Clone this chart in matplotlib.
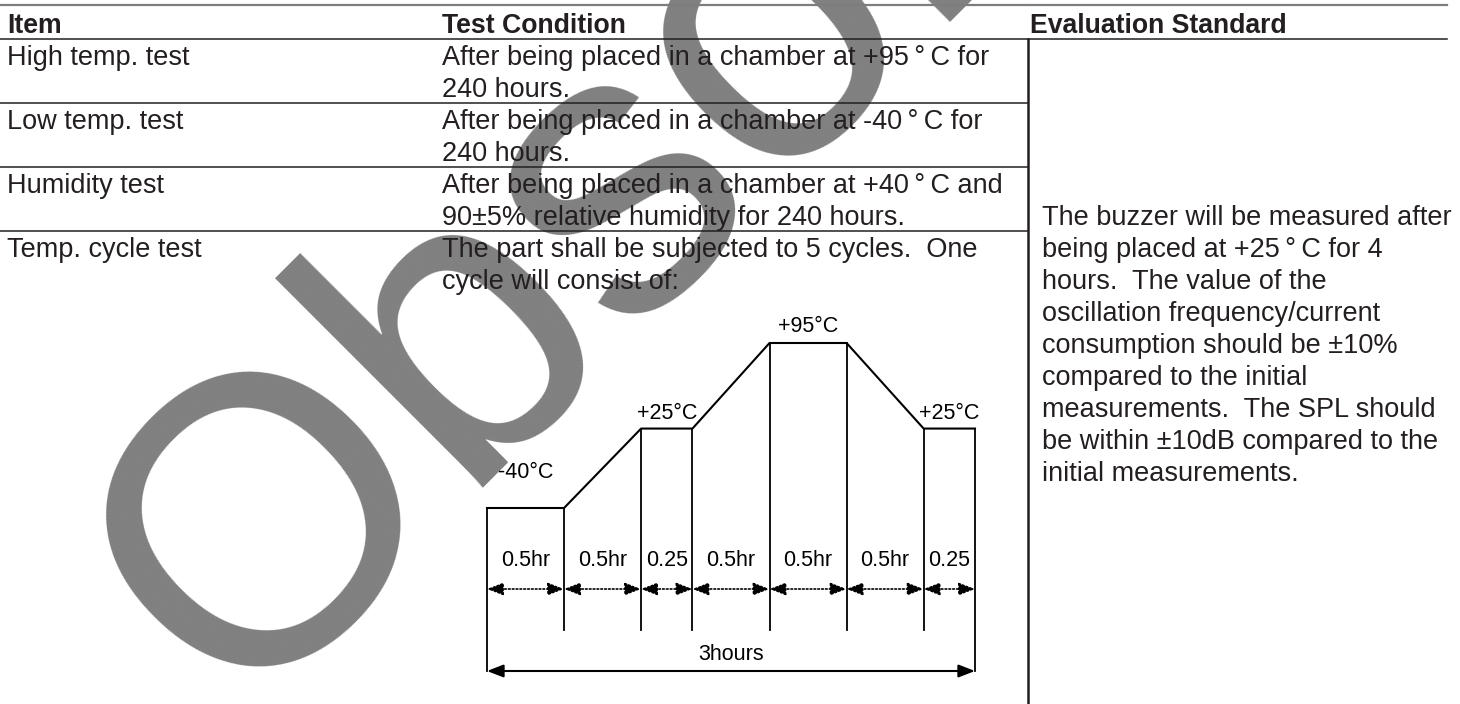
import numpy as np
import matplotlib.pyplot as plt
import matplotlib.transforms as mtransforms

# ---- table content ----
headers = ["Item", "Test Condition", "Evaluation Standard"]
items = ["High temp. test", "Low temp. test", "Humidity test", "Temp. cycle test"]
conditions = [
    ["After being placed in a chamber at +95\u2009°\u2009C for", "240 hours."],
    ["After being placed in a chamber at -40\u2009°\u2009C for", "240 hours."],
    ["After being placed in a chamber at +40\u2009°\u2009C and", "90±5% relative humidity for 240 hours."],
    ["The part shall be subjected to 5 cycles.  One", "cycle will consist of:"],
]
evaluation = [
    "The buzzer will be measured after",
    "being placed at +25\u2009°\u2009C for 4",
    "hours.  The value of the",
    "oscillation frequency/current",
    "consumption should be ±10%",
    "compared to the initial",
    "measurements.  The SPL should",
    "be within ±10dB compared to the",
    "initial measurements.",
]

# ---- temperature cycle ----
seg_hours = [0.5, 0.5, 0.25, 0.5, 0.5, 0.5, 0.25]
seg_labels = ["0.5hr", "0.5hr", "0.25", "0.5hr", "0.5hr", "0.5hr", "0.25"]
profile_temps = [-40, -40, 25, 25, 95, 95, 25, 25]
temp_labels = ["-40°C", "+25°C", "+95°C", "+25°C"]
label_segments = [0, 2, 4, 6]
total_label = "3hours"
watermark = "Obsolete"

# ---- layout (pixels) ----
W, H = 1460, 704
ROW_TOP, ROW_H, LINE_H, BASE_OFF = 39.3, 64, 32, 25.4
COL_X = [7, 441.5, 1030.5]
EVAL_X, EVAL_BASE = 1041.5, 224.7
DIVIDER_X, RIGHT = 1028, 1447
INK = "#231f20"
BODY = 19.5
DIA = 15.5

plt.rcParams["font.family"] = ["Liberation Sans", "DejaVu Sans"]

fig = plt.figure(figsize=(W / 100, H / 100), dpi=100)
ax = fig.add_axes([0, 0, 1, 1])
ax.set_xlim(0, W)
ax.set_ylim(H, 0)
ax.axis("off")

# watermark
ax.text(236, 717, watermark, fontsize=294, color="#808080", rotation=45,
        rotation_mode="anchor", ha="left", va="baseline", zorder=0.5, clip_on=False)

# rules
ax.plot([0, DIVIDER_X - 1], [4.7, 4.7], color="#7d7d7d", lw=1.6, zorder=2)
ax.plot([DIVIDER_X + 1, RIGHT], [4.7, 4.7], color="#7d7d7d", lw=1.6, zorder=2)
ax.plot([0, RIGHT], [ROW_TOP, ROW_TOP], color=INK, lw=1.1, zorder=2)
for k in range(1, len(items)):
    y = ROW_TOP + k * ROW_H
    ax.plot([0, DIVIDER_X], [y, y], color=INK, lw=1.1, zorder=2)
ax.plot([DIVIDER_X, DIVIDER_X], [ROW_TOP, H], color=INK, lw=1.8, zorder=2)

for x, h in zip(COL_X, headers):
    ax.text(x, 33.3, h, fontsize=19.2, fontweight="bold", color=INK, va="baseline", zorder=3)

for k, (item, cond) in enumerate(zip(items, conditions)):
    y0 = ROW_TOP + k * ROW_H + BASE_OFF
    ax.text(COL_X[0], y0, item, fontsize=BODY, color=INK, va="baseline", zorder=3)
    for j, line in enumerate(cond):
        ax.text(COL_X[1], y0 + j * LINE_H, line, fontsize=BODY, color=INK, va="baseline", zorder=3)

for i, line in enumerate(evaluation):
    ax.text(EVAL_X, EVAL_BASE + i * LINE_H, line, fontsize=BODY, color=INK, va="baseline", zorder=3)

# ---- cycle diagram ----
widths = [0.5 + 2 * h for h in seg_hours]          # schematic, not to scale
bounds = np.concatenate([[0], np.cumsum(widths)])
x_left, x_right, y_low, y_high = 487, 975, 508, 343
ax2 = fig.add_axes([x_left / W, (H - y_low) / H, (x_right - x_left) / W, (y_low - y_high) / H])
ax2.set_xlim(0, bounds[-1])
ax2.set_ylim(min(profile_temps), max(profile_temps))
ax2.axis("off")
ax2.patch.set_visible(False)
trans = mtransforms.blended_transform_factory(ax2.transData, ax.transData)

ax2.plot(bounds, profile_temps, color="black", lw=1.5, clip_on=False)

to_px = ax.transData.inverted()
for i, (bx, t) in enumerate(zip(bounds, profile_temps)):
    top = to_px.transform(ax2.transData.transform((bx, t)))[1]
    bottom = 671 if i in (0, len(bounds) - 1) else 630
    ax2.plot([bx, bx], [top, bottom], color="black", lw=1.3, transform=trans, clip_on=False)

for i, lab in enumerate(seg_labels):
    ax2.annotate("", xy=(bounds[i + 1], 589), xytext=(bounds[i], 589),
                 xycoords=trans, textcoords=trans,
                 arrowprops=dict(arrowstyle="<|-|>,head_length=0.9,head_width=0.35",
                                 linestyle=(0, (1, 1.3)), lw=1.2, color="black",
                                 shrinkA=0, shrinkB=0, mutation_scale=11))
    ax2.text((bounds[i] + bounds[i + 1]) / 2, 560, lab, transform=trans, ha="center",
             va="center", fontsize=DIA, color="black")

ax2.annotate("", xy=(bounds[-1], 671), xytext=(bounds[0], 671), xycoords=trans, textcoords=trans,
             arrowprops=dict(arrowstyle="<|-|>,head_length=0.9,head_width=0.35", lw=1.5,
                             color="black", shrinkA=0, shrinkB=0, mutation_scale=11))
ax2.text(bounds[-1] / 2, 655, total_label, transform=trans, ha="center", va="center",
         fontsize=DIA, color="black")

label_dy = [35, 15, 17, 15]
for lab, s, dy in zip(temp_labels, label_segments, label_dy):
    ax2.annotate(lab, xy=((bounds[s] + bounds[s + 1]) / 2, profile_temps[s]),
                 xytext=(0, dy), textcoords="offset pixels", ha="center", va="center",
                 fontsize=DIA, color="black", annotation_clip=False)

fig.savefig("out.png", dpi=100)
